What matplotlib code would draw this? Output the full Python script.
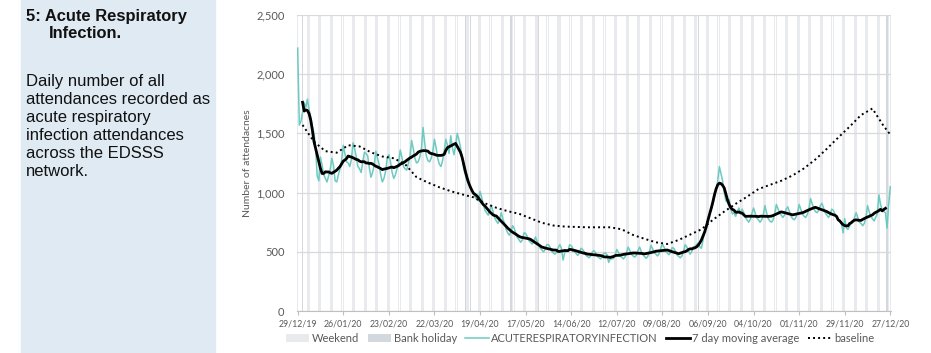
import pandas as pd
import matplotlib
matplotlib.use("Agg")
import matplotlib.pyplot as plt
from matplotlib.patches import Rectangle
from matplotlib.ticker import FuncFormatter

# daily ARI attendances from 29/12/19 (a Sunday), one row per week Sun..Sat
attendances = [
    2220, 1570, 1600, 1680, 1760, 1720, 1790,
    1700, 1640, 1560, 1500, 1380, 1140, 1100,
    1300, 1230, 1150, 1120, 1090, 1140, 1200,
    1290, 1230, 1100, 1090, 1150, 1200, 1270,
    1400, 1330, 1260, 1250, 1220, 1280, 1420,
    1370, 1300, 1220, 1200, 1170, 1260, 1340,
    1330, 1310, 1210, 1130, 1170, 1230, 1350,
    1290, 1240, 1150, 1090, 1120, 1180, 1290,
    1320, 1260, 1170, 1120, 1150, 1200, 1250,
    1360, 1300, 1220, 1200, 1190, 1250, 1310,
    1440, 1370, 1290, 1250, 1260, 1300, 1370,
    1550, 1420, 1310, 1270, 1260, 1290, 1350,
    1450, 1380, 1290, 1240, 1220, 1270, 1350,
    1450, 1400, 1330, 1480, 1380, 1320, 1400,
    1500, 1450, 1380, 1300, 1200, 1150, 1100,
    1080, 1040, 1020, 990, 960, 940, 930,
    1010, 960, 900, 850, 830, 810, 850,
    890, 840, 790, 760, 740, 770, 830,
    780, 740, 690, 660, 640, 670, 720,
    700, 650, 620, 600, 580, 600, 660,
    655, 630, 595, 580, 565, 585, 625,
    590, 565, 530, 515, 500, 520, 560,
    560, 540, 505, 490, 480, 495, 535,
    560, 530, 430, 490, 510, 500, 560,
    550, 530, 500, 485, 470, 490, 530,
    520, 500, 470, 460, 450, 465, 500,
    510, 490, 462, 450, 440, 455, 485,
    490, 475, 410, 440, 440, 445, 470,
    520, 495, 465, 455, 440, 455, 495,
    540, 510, 480, 465, 455, 470, 510,
    540, 505, 475, 460, 445, 460, 495,
    555, 525, 495, 480, 465, 485, 530,
    565, 540, 505, 490, 475, 495, 535,
    530, 505, 475, 460, 450, 465, 503,
    560, 540, 510, 480, 500, 540, 545,
    560, 575, 540, 530, 600, 680, 720,
    790, 820, 860, 900, 960, 1020, 1100,
    1220, 1160, 1100, 1000, 930, 920, 940,
    860, 820, 830, 800, 840, 870, 820,
    860, 830, 790, 770, 750, 775, 825,
    870, 825, 785, 770, 750, 770, 810,
    890, 830, 780, 760, 750, 770, 820,
    900, 865, 825, 810, 790, 810, 860,
    880, 840, 800, 780, 770, 790, 825,
    900, 860, 820, 800, 790, 815, 860,
    950, 905, 865, 840, 830, 850, 890,
    910, 870, 830, 810, 790, 810, 860,
    850, 820, 790, 770, 760, 740, 660,
    780, 700, 690, 720, 740, 750, 790,
    830, 790, 750, 740, 720, 740, 785,
    890, 840, 800, 780, 760, 790, 820,
    980, 900, 850, 840, 830, 700, 900,
    1050,
]

baseline_days = [3, 10, 17, 24, 31, 38, 45, 52, 59, 66, 73, 80, 87, 94, 101,
                 108, 115, 122, 129, 136, 143, 150, 157, 164, 171, 178, 185,
                 192, 199, 206, 213, 220, 227, 234, 241, 248, 255, 262, 269,
                 276, 283, 290, 297, 304, 311, 318, 325, 332, 339, 346, 353,
                 360, 364]
baseline = [1571, 1430, 1350, 1337, 1400, 1390, 1340, 1305, 1290, 1240, 1130,
            1085, 1045, 1012, 985, 960, 910, 872, 843, 821, 783, 745, 722,
            713, 710, 707, 707, 707, 690, 642, 610, 580, 566, 600, 645, 690,
            770, 840, 905, 965, 1030, 1065, 1100, 1145, 1205, 1280, 1370,
            1465, 1557, 1655, 1710, 1560, 1490]

bank_holidays = ["2020-01-01", "2020-04-10", "2020-04-13", "2020-05-08",
                 "2020-05-25", "2020-08-31", "2020-12-25"]

title_lines = ["5: Acute Respiratory", "Infection."]
body_lines = ["Daily number of all", "attendances recorded as",
              "acute respiratory", "infection attendances",
              "across the EDSSS", "network."]

dates = pd.date_range("2019-12-29", periods=len(attendances), freq="D")
df = pd.DataFrame({"ari": attendances}, index=dates)
df["ma7"] = df["ari"].rolling(7, center=True).mean()
base_dates = dates[baseline_days]
weekends = dates[dates.dayofweek >= 5]
holidays = pd.to_datetime(bank_holidays)
tick_dates = pd.date_range("2019-12-29", "2020-12-27", freq="28D")

W, H = 931, 353
fig = plt.figure(figsize=(W / 100, H / 100), dpi=100)

# left text panel
fig.patches.append(Rectangle((21 / W, 0), 194 / W, 1, transform=fig.transFigure,
                             color="#dfeaf3", zorder=0))
tfont = dict(family="Liberation Sans", color="#111111")
fig.text(26 / W, 1 - 21 / H, title_lines[0], fontsize=11.9, weight="bold", **tfont)
fig.text(49 / W, 1 - 38 / H, title_lines[1], fontsize=11.9, weight="bold", **tfont)
for i, line in enumerate(body_lines):
    fig.text(26 / W, 1 - (86 + 18 * i) / H, line, fontsize=12, **tfont)

grey = "#595959"
plt.rcParams["font.family"] = ["Lato", "DejaVu Sans"]

ax = fig.add_axes([297 / W, 42 / H, 594 / W, 296 / H])
b1 = ax.bar(weekends, 2500, width=0.85, color="#e9eaed", label="Weekend", zorder=1)
b2 = ax.bar(holidays, 2500, width=0.85, color="#d3d8df", label="Bank holiday", zorder=1)
l1, = ax.plot(df.index, df["ari"], color="#6ccac1", lw=1.1,
              label="ACUTERESPIRATORYINFECTION", zorder=3)
l2, = ax.plot(df.index, df["ma7"], color="black", lw=2.0,
              label="7 day moving average", zorder=4)
l3, = ax.plot(base_dates, baseline, color="black", lw=1.4, ls=(0, (1, 1.6)),
              label="baseline", zorder=4)

ax.set_ylim(0, 2500)
ax.set_yticks(range(0, 2501, 500))
ax.yaxis.set_major_formatter(FuncFormatter(lambda v, p: f"{int(v):,}"))
ax.set_xlim(dates[0] - pd.Timedelta(hours=10), dates[-1] + pd.Timedelta(hours=10))
ax.set_xticks(tick_dates)
ax.set_xticklabels([d.strftime("%d/%m/%y") for d in tick_dates])

for s in ["top", "right", "left"]:
    ax.spines[s].set_visible(False)
ax.spines["bottom"].set_color("#bfbfbf")
ax.set_axisbelow("line")
ax.grid(axis="y", color="#d9d9d9", lw=0.9)
ax.tick_params(axis="y", length=0, pad=9, labelsize=8, labelcolor=grey)
ax.tick_params(axis="x", length=3, color="#bfbfbf", pad=3, labelsize=6.3,
               labelcolor=grey)
ax.set_ylabel("Number of attendacnes", fontsize=7.5, color=grey, labelpad=3)

fig.legend([b1, b2, l1, l2, l3],
           ["Weekend", "Bank holiday", "ACUTERESPIRATORYINFECTION",
            "7 day moving average", "baseline"],
           loc="center", bbox_to_anchor=(580 / W, 1 - 338 / H), ncol=5,
           frameon=False, fontsize=8, handlelength=2.1, handletextpad=0.25,
           columnspacing=0.75, labelcolor=grey)

fig.savefig("out.png", dpi=100)
